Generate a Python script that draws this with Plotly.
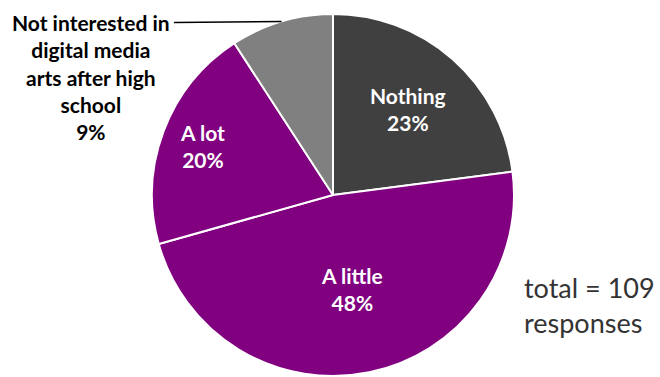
import math
import plotly.graph_objects as go

# Survey answers (109 responses)
categories = ["Nothing", "A little", "A lot",
              "Not interested in digital media arts after high school"]
label_text = ["Nothing", "A little", "A lot",
              "Not interested in<br>digital media<br>arts after high<br>school"]
counts = [25, 52, 22, 10]
colors = ["#404040", "#800080", "#800080", "#808080"]
total_note = "total = 109<br>responses"

W, H = 660, 377
CX, CY, R = 333, 195, 181          # pie centre / radius in pixels
FONT = "Lato"

total = sum(counts)
pct = [round(100 * c / total) for c in counts]

fig = go.Figure(go.Pie(
    labels=categories,
    values=counts,
    sort=False,
    direction="clockwise",
    rotation=0,
    marker=dict(colors=colors, line=dict(color="white", width=2)),
    textinfo="none",
    hoverinfo="label+percent",
    showlegend=False,
    domain=dict(x=[(CX - R) / W, (CX + R) / W],
                y=[(H - CY - R) / H, (H - CY + R) / H]),
))


def to_paper(px, py):
    return px / W, 1 - py / H


def point_at(angle_deg, rfrac):
    a = math.radians(angle_deg)
    return CX + R * rfrac * math.sin(a), CY - R * rfrac * math.cos(a)


# mid-angle of every slice, measured clockwise from 12 o'clock
mids = []
acc = 0.0
for c in counts:
    span = 360 * c / total
    mids.append(acc + span / 2)
    acc += span

annotations = []
inside_r = [0.63, 0.53, 0.77]
for i in range(3):
    px, py = point_at(mids[i], inside_r[i])
    x, y = to_paper(px, py)
    annotations.append(dict(
        x=x, y=y, xref="paper", yref="paper",
        text=f"<b>{label_text[i]}<br>{pct[i]}%</b>",
        showarrow=False, xanchor="center", yanchor="middle",
        font=dict(family=FONT, size=21, color="white"),
    ))

# outside label with leader line to the slice edge
lx, ly = 91, 77
x, y = to_paper(lx, ly)
annotations.append(dict(
    x=x, y=y, xref="paper", yref="paper",
    text=f"<b>{label_text[3]}<br>{pct[3]}%</b>",
    showarrow=False, xanchor="center", yanchor="middle", align="center",
    font=dict(family=FONT, size=21, color="black"),
))

ex, ey = point_at(mids[3], 1.0)
x0, y0 = to_paper(174, ey + 1)
x1, y1 = to_paper(ex, ey)
shapes = [dict(type="line", xref="paper", yref="paper",
               x0=x0, y0=y0, x1=x1, y1=y1,
               line=dict(color="black", width=1.5))]

x, y = to_paper(589, 305)
annotations.append(dict(
    x=x, y=y, xref="paper", yref="paper",
    text=total_note, showarrow=False,
    xanchor="center", yanchor="middle", align="left",
    font=dict(family=FONT, size=27, color="#333333"),
))

fig.update_layout(
    width=W, height=H,
    margin=dict(l=0, r=0, t=0, b=0),
    paper_bgcolor="white", plot_bgcolor="white",
    annotations=annotations, shapes=shapes,
)

fig.write_html("out.html")
